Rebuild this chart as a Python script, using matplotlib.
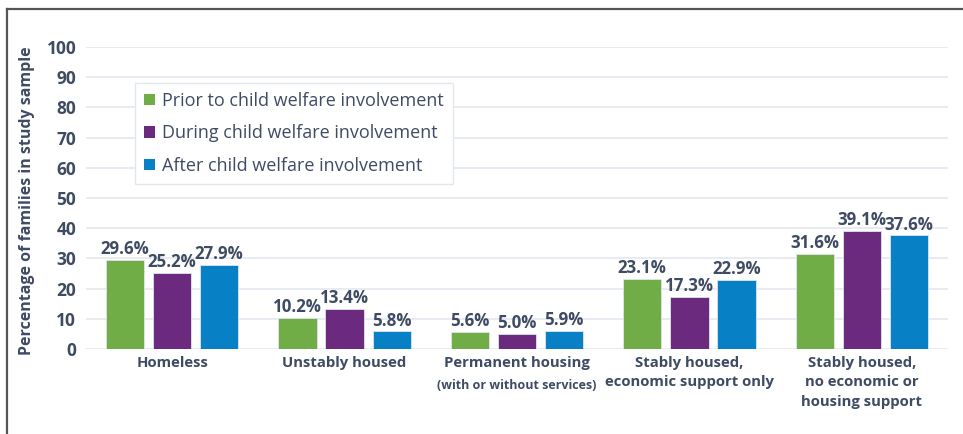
import matplotlib.pyplot as plt
from matplotlib.lines import Line2D
from matplotlib.patches import Patch
import numpy as np

plt.rcParams['font.family'] = ['Open Sans', 'DejaVu Sans']

# Data
categories = ["Homeless", "Unstably housed", "Permanent housing",
              "Stably housed,\neconomic support only",
              "Stably housed,\nno economic or\nhousing support"]
series_names = ["Prior to child welfare involvement",
                "During child welfare involvement",
                "After child welfare involvement"]
prior = [29.6, 10.2, 5.6, 23.1, 31.6]
during = [25.2, 13.4, 5.0, 17.3, 39.1]
after = [27.9, 5.8, 5.9, 22.9, 37.6]
yticks = [0, 10, 20, 30, 40, 50, 60, 70, 80, 90, 100]

colors = ["#70ad47", "#6b2a7d", "#0880c5"]
txt = "#3f4b63"

fig = plt.figure(figsize=(9.63, 4.34), dpi=100)
ax = fig.add_axes([0.0893, 0.1959, 0.8951, 0.6959])

x = np.arange(len(categories))
width = 0.222
step = 0.273
for i, (vals, col) in enumerate(zip([prior, during, after], colors)):
    bars = ax.bar(x + (i - 1) * step, vals, width, color=col,
                  edgecolor="#dfe6ee", linewidth=0.6, zorder=3)
    for b, v in zip(bars, vals):
        ax.text(b.get_x() + b.get_width() / 2, v + 0.6, f"{v:.1f}%",
                ha="center", va="bottom", fontsize=12.2, fontweight="bold",
                color=txt, clip_on=False, zorder=4)

ax.set_xlim(-0.5, 4.5)
ax.set_ylim(0, 100)
ax.set_yticks(yticks)
ax.set_yticklabels([str(t) for t in yticks], fontsize=12.5,
                   fontweight="bold", color=txt)
ax.yaxis.grid(True, color="#e4e9f0", linewidth=1.2, zorder=0)
ax.tick_params(axis="y", length=0, pad=7)
ax.tick_params(axis="x", length=0, pad=5)
ax.set_xticks(x)
ax.set_xticklabels(categories, fontsize=10.7, fontweight="bold",
                   color=txt, linespacing=1.5)
ax.text(2, -10.0, "(with or without services)", ha="center", va="top",
        fontsize=9, fontweight="bold", color=txt)
for s in ax.spines.values():
    s.set_visible(False)

ax.set_ylabel("Percentage of families in study sample", fontsize=11.5,
              fontweight="bold", color=txt)
ax.yaxis.set_label_coords(-0.059, 0.49)

handles = [Patch(facecolor=c, edgecolor="none") for c in colors]
leg = ax.legend(handles, series_names, loc="upper left",
                bbox_to_anchor=(0.057, 0.881), borderaxespad=0,
                fontsize=13, handlelength=0.6, handleheight=0.6,
                handletextpad=0.4, labelspacing=0.8, borderpad=0.5,
                fancybox=False, framealpha=1, edgecolor="#e2e7ee",
                labelcolor=txt)
leg.get_frame().set_linewidth(1.0)

# screenshot frame lines at top and left
fig.add_artist(Line2D([0.0073, 1.0], [0.979, 0.979], color="#555555",
                      linewidth=1.6, transform=fig.transFigure))
fig.add_artist(Line2D([0.0073, 0.0073], [0.0, 0.979], color="#555555",
                      linewidth=1.6, transform=fig.transFigure))

fig.savefig("out.png", dpi=100)
